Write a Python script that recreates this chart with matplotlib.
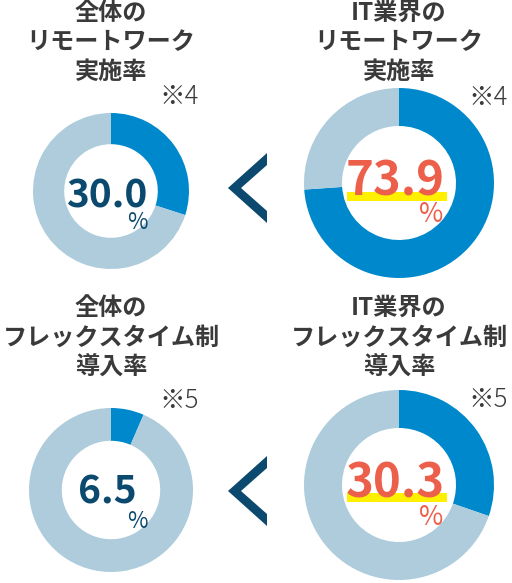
import matplotlib.pyplot as plt
from matplotlib.patches import Rectangle, Polygon

plt.rcParams['font.family'] = ['Noto Sans CJK JP', 'DejaVu Sans']

# ---- data ----
titles = [
    ["全体の", "リモートワーク", "実施率"],
    ["IT業界の", "リモートワーク", "実施率"],
    ["全体の", "フレックスタイム制", "導入率"],
    ["IT業界の", "フレックスタイム制", "導入率"],
]
values = [30.0, 73.9, 6.5, 30.3]
notes = ["※4", "※4", "※5", "※5"]
highlight = [False, True, False, True]

# ---- style ----
W, H = 512, 583
DARK = '#0088CC'
LIGHT = '#AECCDC'
NAVY = '#0B4A6E'
RED = '#EC5F4B'
YELLOW = '#FFF000'
GRAY = '#3A3A3A'

# layout in pixels: center x, center y, radius
donut_pos = [(111, 191, 78), (399, 183, 95), (111, 490, 82), (399, 485, 95)]
title_y = [(13, 42, 72), (13, 42, 72), (308, 338, 368), (308, 338, 368)]
note_pos = [(179, 97), (488, 98), (179, 401), (488, 400)]
num_base = [207, 196, 503, 497]
num_size = [28, 34, 28, 34]
pct_pos = [(137, 229), (431, 222), (137, 528), (431, 525)]
pct_size = [16, 19, 16, 19]

fig = plt.figure(figsize=(W / 100, H / 100), dpi=100)
fig.patch.set_facecolor('white')

for (cx, cy, r), v in zip(donut_pos, values):
    ax = fig.add_axes([(cx - r) / W, 1 - (cy + r) / H, 2 * r / W, 2 * r / H])
    ax.pie([v, 100 - v], startangle=90, counterclock=False,
           colors=[DARK, LIGHT],
           wedgeprops=dict(width=0.4, edgecolor='none', linewidth=0))
    ax.set_xlim(-1, 1)
    ax.set_ylim(-1, 1)
    ax.set_aspect('equal')
    ax.axis('off')

# overlay for text and decorations, pixel coordinates
ov = fig.add_axes([0, 0, 1, 1])
ov.set_xlim(0, W)
ov.set_ylim(H, 0)
ov.axis('off')
ov.patch.set_alpha(0)

for i, (cx, cy, r) in enumerate(donut_pos):
    for line, ty in zip(titles[i], title_y[i]):
        ov.text(cx, ty, line, ha='center', va='center', fontsize=17.4,
                fontweight='bold', color=GRAY)
    ov.text(note_pos[i][0], note_pos[i][1], notes[i], ha='center', va='center',
            fontsize=18.5, fontweight='light', color=GRAY)
    col = RED if highlight[i] else NAVY
    if highlight[i]:
        ov.add_patch(Rectangle((347, num_base[i] - 4), 100, 9,
                               facecolor=YELLOW, edgecolor='none', zorder=2))
    ov.text(cx - 4, num_base[i], f"{values[i]:.1f}", ha='center', va='baseline',
            fontsize=num_size[i], fontweight='bold', color=col, zorder=3)
    ov.text(pct_pos[i][0], pct_pos[i][1], "%", ha='center', va='baseline',
            fontsize=pct_size[i], fontweight='normal', color=col, zorder=3)

# chevrons between pairs
for ty in (188, 491):
    ov.add_patch(Polygon([(228, ty), (267, ty - 35), (267, ty - 23), (241, ty),
                          (267, ty + 23), (267, ty + 35)], closed=True,
                         facecolor=NAVY, edgecolor='none'))

fig.savefig('out.png', dpi=100, facecolor='white')
